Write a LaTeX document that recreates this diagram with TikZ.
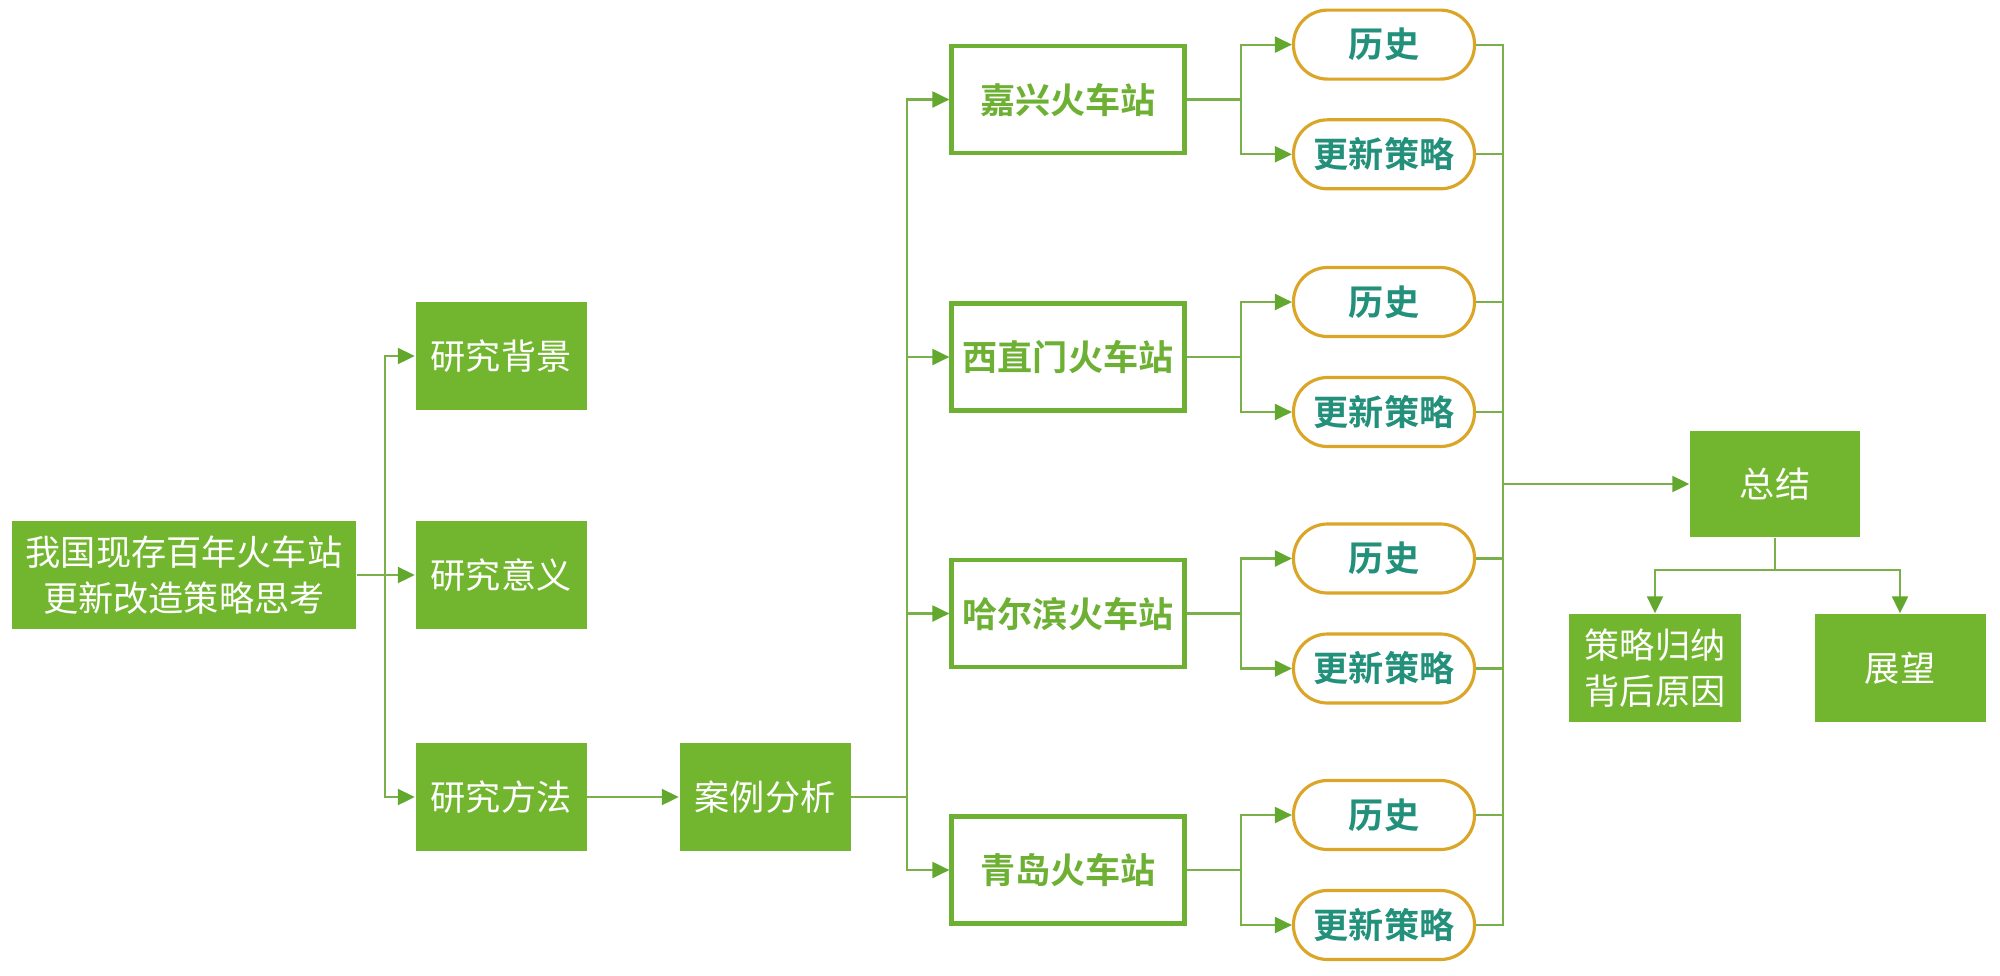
\documentclass[tikz,border=0pt]{standalone}
\usepackage{fontspec}
\setmainfont{Noto Sans CJK SC}[BoldFont={Noto Sans CJK SC Bold}]
\usetikzlibrary{arrows.meta}
\definecolor{leafgreen}{HTML}{72B62F}
\definecolor{linegreen}{HTML}{7AB04A}
\definecolor{tipgreen}{HTML}{62A82E}
\definecolor{stationgreen}{HTML}{6DB034}
\definecolor{tealtext}{HTML}{22907A}
\definecolor{goldline}{HTML}{DBA628}
\tikzset{
  greenbox/.style={fill=leafgreen, text=white, minimum width=1.71cm, minimum height=1.08cm, inner sep=0pt, align=center, font=\fontsize{10pt}{13pt}\selectfont},
  stationbox/.style={draw=stationgreen, line width=1.2pt, fill=white, text=stationgreen, minimum width=2.33cm, minimum height=1.07cm, inner sep=0pt, font=\fontsize{10pt}{13pt}\selectfont\bfseries},
  leafbox/.style={draw=goldline, line width=0.9pt, rounded corners=0.34cm, fill=white, text=tealtext, minimum width=1.81cm, minimum height=0.69cm, inner sep=0pt, font=\fontsize{10pt}{13pt}\selectfont\bfseries},
  link/.style={draw=linegreen, line width=0.6pt},
  linkarrow/.style={link, -{Triangle[length=0.17cm,width=0.16cm,color=tipgreen]}}
}
\begin{document}
\begin{tikzpicture}
      \useasboundingbox (0,0) rectangle (20,-9.75);
      % left part
      \node[greenbox, minimum width=3.44cm] (root) at (1.84,-5.75) {我国现存百年火车站\\更新改造策略思考};
      \node[greenbox] (bg) at (5.01,-3.56) {研究背景};
      \node[greenbox] (yy) at (5.01,-5.75) {研究意义};
      \node[greenbox] (ff) at (5.01,-7.97) {研究方法};
      \node[greenbox] (al) at (7.65,-7.97) {案例分析};
      % stations
      \node[stationbox] (jx) at (10.68,-0.995) {嘉兴火车站};
      \node[stationbox] (xzm) at (10.68,-3.57) {西直门火车站};
      \node[stationbox] (heb) at (10.68,-6.135) {哈尔滨火车站};
      \node[stationbox] (qd) at (10.68,-8.70) {青岛火车站};
      \node[leafbox] (jx-ls) at (13.84,-0.446) {历史};
      \node[leafbox] (jx-cl) at (13.84,-1.543) {更新策略};
      \node[leafbox] (xzm-ls) at (13.84,-3.02) {历史};
      \node[leafbox] (xzm-cl) at (13.84,-4.12) {更新策略};
      \node[leafbox] (heb-ls) at (13.84,-5.585) {历史};
      \node[leafbox] (heb-cl) at (13.84,-6.685) {更新策略};
      \node[leafbox] (qd-ls) at (13.84,-8.15) {历史};
      \node[leafbox] (qd-cl) at (13.84,-9.25) {更新策略};
      % right part
      \node[greenbox, minimum width=1.70cm, minimum height=1.06cm] (sum) at (17.75,-4.84) {总结};
      \node[greenbox, minimum width=1.72cm] (gn) at (16.55,-6.68) {策略归纳\\背后原因};
      \node[greenbox] (zw) at (19.0,-6.68) {展望};
      % connectors
      \coordinate (b1) at (3.85,-5.75);
      \draw[linkarrow] (root) -- (yy);
      \draw[linkarrow] (b1) |- (bg);
      \draw[linkarrow] (b1) |- (ff);
      \draw[linkarrow] (ff) -- (al);
      \coordinate (b2) at (9.07,-7.97);
      \draw[link] (al) -- (b2);
      \draw[linkarrow] (b2) |- (jx);
      \draw[linkarrow] (b2) |- (xzm);
      \draw[linkarrow] (b2) |- (heb);
      \draw[linkarrow] (b2) |- (qd);
      \draw[link] (jx.east) -- ++(0.54,0) coordinate (jx-b);
      \draw[linkarrow] (jx-b) |- (jx-ls);
      \draw[linkarrow] (jx-b) |- (jx-cl);
      \draw[link] (xzm.east) -- ++(0.54,0) coordinate (xzm-b);
      \draw[linkarrow] (xzm-b) |- (xzm-ls);
      \draw[linkarrow] (xzm-b) |- (xzm-cl);
      \draw[link] (heb.east) -- ++(0.54,0) coordinate (heb-b);
      \draw[linkarrow] (heb-b) |- (heb-ls);
      \draw[linkarrow] (heb-b) |- (heb-cl);
      \draw[link] (qd.east) -- ++(0.54,0) coordinate (qd-b);
      \draw[linkarrow] (qd-b) |- (qd-ls);
      \draw[linkarrow] (qd-b) |- (qd-cl);
      % collect into summary
      \coordinate (rb) at (15.03,-4.84);
      \draw[link] (jx-ls.east) -| (rb);
      \draw[link] (jx-cl.east) -| (rb);
      \draw[link] (xzm-ls.east) -| (rb);
      \draw[link] (xzm-cl.east) -| (rb);
      \draw[link] (heb-ls.east) -| (rb);
      \draw[link] (heb-cl.east) -| (rb);
      \draw[link] (qd-ls.east) -| (rb);
      \draw[link] (qd-cl.east) -| (rb);
      \draw[linkarrow] (rb) -- (sum);
      \draw[link] (sum.south) -- ++(0,-0.32) coordinate (sb);
      \draw[linkarrow] (sb) -| (gn);
      \draw[linkarrow] (sb) -| (zw);
    \end{tikzpicture}
\end{document}
